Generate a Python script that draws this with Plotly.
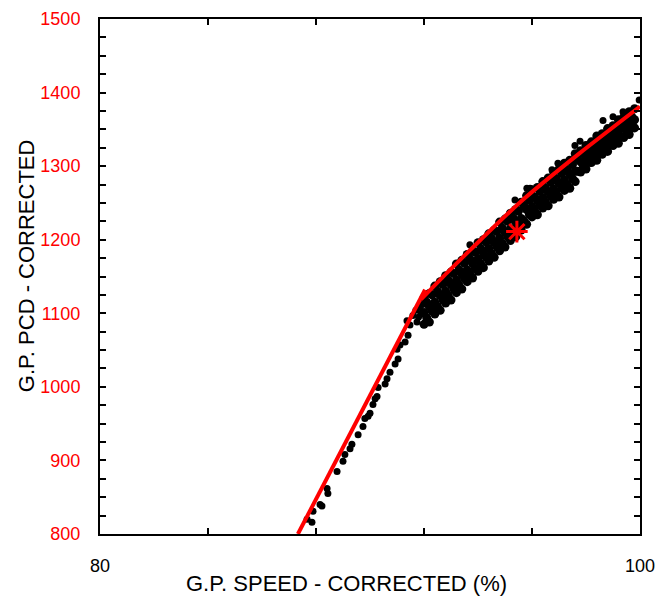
import plotly.graph_objects as go

# ---- sparse low-speed points (speed %, PCD) ----
low_speed = [87.67, 87.85, 87.89, 88.22, 88.15, 88.44, 88.41, 88.78, 89.00, 89.07,
             89.26, 89.33, 89.56, 89.74, 89.81, 89.93, 90.00, 90.11, 90.19, 90.26,
             90.30, 90.56, 90.63, 90.74, 90.93, 91.04, 91.00, 91.11, 91.30, 91.41,
             91.37, 91.48, 91.59, 91.74, 91.70, 91.85, 91.89, 91.95, 91.80]
low_pcd = [820, 816, 831, 838, 840, 855, 862, 885, 899, 908,
           916, 922, 935, 946, 957, 960, 964, 976, 984, 987,
           999, 1004, 1011, 1020, 1031, 1038, 1051, 1057, 1061, 1070,
           1090, 1084, 1097, 1088, 1104, 1108, 1099, 1112, 1095]

# ---- dense band, rows A ----
band_speed_a = [92.0, 92.2, 92.4, 92.6, 92.8, 93.0, 93.2, 93.4, 93.6, 93.8,
                94.0, 94.2, 94.4, 94.6, 94.8, 95.0, 95.2, 95.4, 95.6, 95.8,
                96.0, 96.2, 96.4, 96.6, 96.8, 97.0, 97.2, 97.4, 97.6, 97.8,
                98.0, 98.2, 98.4, 98.6, 98.8, 99.0, 99.2, 99.4, 99.6, 99.8]
band_pcd_a1 = [1121, 1127, 1137, 1143, 1151, 1156, 1167, 1172, 1180, 1185,
               1196, 1200, 1208, 1213, 1224, 1228, 1236, 1241, 1251, 1260,
               1268, 1271, 1279, 1284, 1292, 1296, 1304, 1308, 1317, 1321,
               1328, 1333, 1341, 1344, 1351, 1355, 1363, 1367, 1374, 1378]
band_pcd_a3 = [1101, 1109, 1115, 1124, 1130, 1139, 1145, 1153, 1159, 1168,
               1174, 1182, 1188, 1196, 1202, 1210, 1215, 1224, 1229, 1241,
               1245, 1253, 1257, 1265, 1269, 1277, 1281, 1289, 1293, 1306,
               1310, 1317, 1322, 1329, 1333, 1340, 1344, 1351, 1356, 1363]
band_pcd_a5 = [1085, 1088, 1099, 1104, 1114, 1118, 1128, 1133, 1143, 1148,
               1157, 1162, 1171, 1176, 1185, 1190, 1199, 1204, 1213, 1221,
               1231, 1234, 1243, 1246, 1255, 1258, 1267, 1270, 1279, 1292,
               1296, 1305, 1308, 1316, 1320, 1328, 1331, 1339, 1343, 1352]

# ---- dense band, rows B ----
band_speed_b = [92.1, 92.3, 92.5, 92.7, 92.9, 93.1, 93.3, 93.5, 93.7, 93.9,
                94.1, 94.3, 94.5, 94.7, 94.9, 95.1, 95.3, 95.5, 95.7, 95.9,
                96.1, 96.3, 96.5, 96.7, 96.9, 97.1, 97.3, 97.5, 97.7, 97.9,
                98.1, 98.3, 98.5, 98.7, 98.9, 99.1, 99.3, 99.5, 99.7]
band_pcd_b2 = [1115, 1125, 1130, 1139, 1145, 1154, 1159, 1168, 1174, 1183,
               1188, 1197, 1202, 1211, 1216, 1225, 1230, 1239, 1246, 1254,
               1258, 1266, 1270, 1278, 1283, 1290, 1295, 1302, 1309, 1317,
               1321, 1328, 1333, 1340, 1344, 1351, 1355, 1362, 1367]
band_pcd_b4 = [1094, 1103, 1109, 1118, 1124, 1133, 1138, 1147, 1153, 1161,
               1167, 1176, 1181, 1190, 1195, 1204, 1208, 1218, 1226, 1235,
               1239, 1247, 1251, 1259, 1263, 1271, 1275, 1283, 1293, 1301,
               1305, 1313, 1317, 1324, 1329, 1337, 1340, 1349, 1352]

# ---- scattered outliers ----
out_speed = [99.97, 99.74, 99.70, 99.26, 98.70, 99.37, 99.00, 98.63, 97.78, 97.59,
             96.96, 96.74, 95.93, 95.37, 95.81, 93.70]
out_pcd = [1390, 1358, 1354, 1338, 1323, 1374, 1367, 1362, 1334, 1328,
           1304, 1295, 1270, 1254, 1270, 1193]

# ---- red reference lines ----
line1_speed = [87.33, 92.04]
line1_pcd = [800, 1132]
line2_speed = [91.89, 92.85, 94.07, 95.56, 97.78, 100.0]
line2_pcd = [1119, 1155, 1199, 1251, 1318, 1381]

# ---- design point ----
star_speed = [95.44]
star_pcd = [1211]

# ---- stray blue marks outside the frame ----
blue_speed = [100.63, 100.63]
blue_pcd = [1473, 1280]

x_ticks = [80, 84, 88, 92, 96, 100]
x_text = ["80", "", "", "", "", "100"]
x_title = "G.P. SPEED - CORRECTED (%)"
y_title = "G.P. PCD - CORRECTED"

band_speed = band_speed_a * 3 + band_speed_b * 2
band_pcd = band_pcd_a1 + band_pcd_a3 + band_pcd_a5 + band_pcd_b2 + band_pcd_b4

FONT = "Liberation Sans, Arial, sans-serif"

fig = go.Figure()
fig.add_trace(go.Scatter(x=band_speed, y=band_pcd, mode="markers",
                         marker=dict(color="black", size=9), showlegend=False))
fig.add_trace(go.Scatter(x=low_speed + out_speed, y=low_pcd + out_pcd, mode="markers",
                         marker=dict(color="black", size=7), showlegend=False))
fig.add_trace(go.Scatter(x=line1_speed, y=line1_pcd, mode="lines",
                         line=dict(color="#ff0000", width=4), showlegend=False))
fig.add_trace(go.Scatter(x=line2_speed, y=line2_pcd, mode="lines",
                         line=dict(color="#ff0000", width=4, shape="spline", smoothing=0.6),
                         showlegend=False))
fig.add_trace(go.Scatter(x=star_speed, y=star_pcd, mode="markers",
                         marker=dict(symbol="asterisk-open", size=18, color="#ff0000",
                                     line=dict(color="#ff0000", width=3)),
                         showlegend=False))
fig.add_trace(go.Scatter(x=blue_speed, y=blue_pcd, mode="markers", cliponaxis=False,
                         marker=dict(color="blue", size=2), showlegend=False))

fig.update_layout(
    width=661, height=591,
    margin=dict(l=92, r=29, t=11, b=65),
    paper_bgcolor="white", plot_bgcolor="white",
    font=dict(family=FONT, color="black"),
    xaxis=dict(range=[80, 100], tickvals=x_ticks, ticktext=x_text, automargin=False,
               ticks="inside", ticklen=6, tickwidth=1.5, tickcolor="black",
               showline=True, linecolor="black", linewidth=2, mirror="ticks",
               showgrid=False, zeroline=False, ticklabelstandoff=14,
               ticklabeloverflow="allow",
               tickfont=dict(size=18, color="black")),
    yaxis=dict(range=[800, 1500], tickmode="linear", tick0=800, dtick=100, automargin=False,
               ticks="inside", ticklen=6, tickwidth=1.5, tickcolor="black",
               minor=dict(dtick=25, ticks="inside", ticklen=6, tickwidth=1.5, tickcolor="black"),
               showline=True, linecolor="black", linewidth=2, mirror="ticks",
               showgrid=False, zeroline=False, ticklabelstandoff=14,
               ticklabeloverflow="allow",
               tickfont=dict(size=18, color="#ff0000")),
    annotations=[
        dict(text=x_title, xref="paper", yref="paper", x=0.456, y=-0.096,
             xanchor="center", yanchor="middle", showarrow=False,
             font=dict(size=22, family=FONT, color="black")),
        dict(text=y_title, xref="paper", yref="paper", x=-0.137, y=0.52, textangle=-90,
             xanchor="center", yanchor="middle", showarrow=False,
             font=dict(size=22, family=FONT, color="black")),
    ],
)

fig.write_html("out.html")
